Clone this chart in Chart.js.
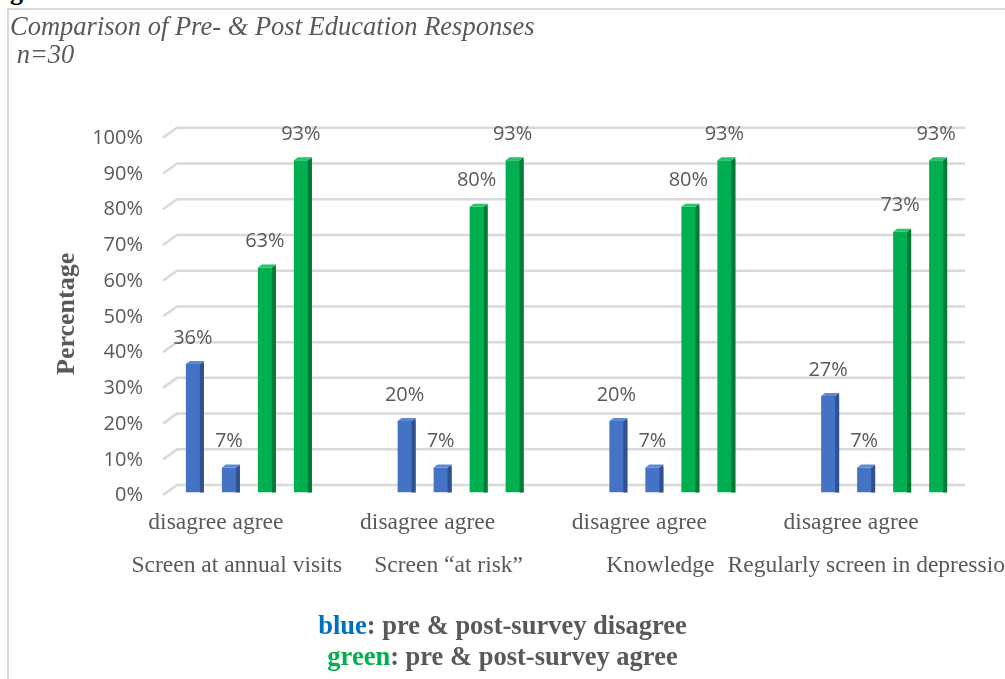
<!DOCTYPE html>
<html>
<head>
<meta charset="utf-8">
<title>Comparison of Pre- & Post Education Responses</title>
<script src="https://cdn.jsdelivr.net/npm/chart.js@4.4.0/dist/chart.umd.min.js"></script>
<style>
  html, body { margin: 0; padding: 0; background: #fff; overflow: hidden; }
  #wrap { position: relative; width: 1005px; height: 679px; overflow: hidden; }
  #frame { position: absolute; left: 7px; top: 8px; width: 1100px; height: 800px; border: 2px solid #d9d9d9; box-sizing: border-box; }
  #fig { position: absolute; left: -13px; top: -21px; font: bold 26px/26px "Liberation Serif"; color: #000; white-space: nowrap; }
  #chartBox { position: absolute; left: 0; top: 0; width: 1005px; height: 679px; }
  #legend { position: absolute; left: 0; top: 610px; width: 1005px; text-align: center; font: bold 26.5px/31px "Liberation Serif"; color: #595959; }
  #legend .b { color: #0070c0; }
  #legend .g { color: #00b050; }
</style>
</head>
<body>
<div id="wrap">
  <div id="frame"></div>
  <div id="fig">Figure</div>
  <div id="chartBox"><canvas id="responsesChart"></canvas></div>
  <div id="legend">
    <div><span class="b">blue</span>: pre &amp; post-survey disagree</div>
    <div><span class="g">green</span>: pre &amp; post-survey agree</div>
  </div>
</div>
<script>
// data (percent of n=30)
const groupNames = ["Screen at annual visits", "Screen \u201cat risk\u201d", "Knowledge", "Regularly screen in depression"];
const subLabels = ["disagree agree", "disagree agree", "disagree agree", "disagree agree"];
const preDisagree = [36, 20, 20, 27];
const postDisagree = [7, 7, 7, 7];
const preAgree = [63, 80, 80, 73];
const postAgree = [93, 93, 93, 93];

const GREY = "#595959";
Chart.defaults.font.family = "'Open Sans', sans-serif";

// back-wall gridlines with the little 3D step on the left
const backGrid = {
  id: "backGrid",
  beforeDatasetsDraw(chart) {
    const { ctx, chartArea, scales: { y } } = chart;
    const x0 = chartArea.left + 20;
    const x1 = x0 + 14;
    const x2 = chartArea.right - 25;
    ctx.save();
    ctx.strokeStyle = "#d9d9d9";
    ctx.lineWidth = 2.5;
    y.ticks.forEach((t) => {
      const py = y.getPixelForValue(t.value);
      ctx.beginPath();
      ctx.moveTo(x0, py + 2.5);
      ctx.lineTo(x1, py - 7.5);
      ctx.lineTo(x2, py - 7.5);
      ctx.stroke();
    });
    ctx.restore();
  },
};

// side + top faces of each bar, then the value labels
const bars3d = {
  id: "bars3d",
  afterDatasetsDraw(chart) {
    const { ctx } = chart;
    const depth = 4, rise = 3;
    ctx.save();
    chart.data.datasets.forEach((ds, i) => {
      const meta = chart.getDatasetMeta(i);
      meta.data.forEach((bar, j) => {
        const { x, y, base, width } = bar.getProps(["x", "y", "base", "width"], true);
        const l = x - width / 2, r = x + width / 2;
        ctx.fillStyle = ds.sideColor;
        ctx.beginPath();
        ctx.moveTo(r - depth, y);
        ctx.lineTo(r, y - rise);
        ctx.lineTo(r, base);
        ctx.lineTo(r - depth, base);
        ctx.closePath();
        ctx.fill();
        ctx.fillStyle = ds.topColor;
        ctx.beginPath();
        ctx.moveTo(l, y);
        ctx.lineTo(l + depth, y - rise);
        ctx.lineTo(r, y - rise);
        ctx.lineTo(r - depth, y);
        ctx.closePath();
        ctx.fill();

        ctx.fillStyle = GREY;
        ctx.font = "20px 'Open Sans'";
        ctx.textAlign = "center";
        ctx.textBaseline = "middle";
        ctx.fillText(ds.data[j] + "%", x - depth / 2, y - 26);
      });
    });
    ctx.restore();
  },
};

const noEdgePad = (s) => { s.paddingLeft = 0; s.paddingRight = 0; };

const ctx = document.getElementById("responsesChart").getContext("2d");
const responsesChart = new Chart(ctx, {
  type: "bar",
  data: {
    labels: groupNames,
    datasets: [
      { label: "Pre-survey disagree", data: preDisagree, backgroundColor: "#4472c4", sideColor: "#2f528f", topColor: "#5f88d2" },
      { label: "Post-survey disagree", data: postDisagree, backgroundColor: "#4472c4", sideColor: "#2f528f", topColor: "#5f88d2" },
      { label: "Pre-survey agree", data: preAgree, backgroundColor: "#00b050", sideColor: "#007a37", topColor: "#26c36a" },
      { label: "Post-survey agree", data: postAgree, backgroundColor: "#00b050", sideColor: "#007a37", topColor: "#26c36a" },
    ],
  },
  options: {
    responsive: true,
    maintainAspectRatio: false,
    animation: false,
    categoryPercentage: 0.68,
    barPercentage: 0.5,
    layout: { padding: { left: 10, right: 15, top: 0, bottom: 100 } },
    plugins: {
      legend: { display: false },
      tooltip: { enabled: false },
      title: {
        display: true,
        text: ["Comparison of Pre- & Post Education Responses", " n=30"],
        align: "start",
        color: GREY,
        font: { family: "'Liberation Serif'", size: 26.5, style: "italic", weight: "normal", lineHeight: 1.06 },
        padding: { top: 14, bottom: 65 },
      },
    },
    scales: {
      y: {
        min: 0,
        max: 100,
        ticks: { stepSize: 10, padding: 0, labelOffset: 3, color: GREY, font: { size: 20 }, callback: (v) => v + "%" },
        grid: { display: false, drawTicks: false },
        border: { display: false },
        title: {
          display: true,
          text: "Percentage",
          color: GREY,
          font: { family: "'Liberation Serif'", size: 26, weight: "bold", lineHeight: 1.2 },
          padding: { top: 42, bottom: 0 },
        },
        afterFit: (s) => { s.width = 133; },
      },
      x: {
        position: "bottom",
        weight: 0,
        grid: { display: false, drawTicks: false },
        border: { display: false },
        ticks: {
          callback: (v, i) => subLabels[i],
          labelOffset: -33,
          padding: 16,
          maxRotation: 0,
          autoSkip: false,
          color: GREY,
          font: { family: "'Liberation Serif'", size: 23.5 },
        },
        afterFit: noEdgePad,
      },
      x2: {
        type: "category",
        labels: groupNames,
        position: "bottom",
        weight: 1,
        offset: true,
        grid: { display: false, drawTicks: false },
        border: { display: false },
        ticks: {
          labelOffset: -12,
          padding: -1,
          maxRotation: 0,
          autoSkip: false,
          color: GREY,
          font: { family: "'Liberation Serif'", size: 23.5 },
        },
        afterFit: noEdgePad,
      },
    },
  },
  plugins: [backGrid, bars3d],
});
</script>
</body>
</html>
